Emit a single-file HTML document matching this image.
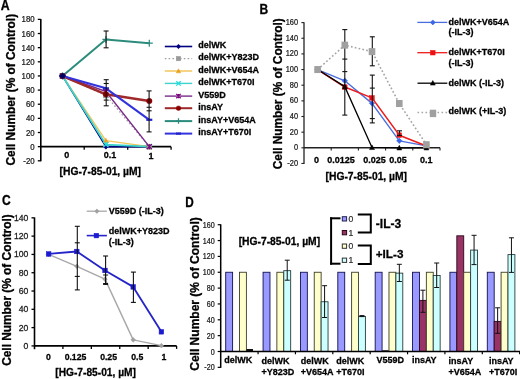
<!DOCTYPE html>
<html><head><meta charset="utf-8"><style>
html,body{margin:0;padding:0;background:#fff;}
svg{display:block;font-family:"Liberation Sans", sans-serif;filter:blur(0.35px);}
</style></head><body>
<svg width="520" height="379" viewBox="0 0 520 379">
<rect width="520" height="379" fill="#fff"/>
<text transform="translate(0.7,9.5) scale(0.88,1)" font-size="14" font-weight="bold" stroke="#000" stroke-width="0.3">A</text>
<text transform="translate(14.90,89.70) rotate(-90)" x="0" y="0" font-size="12" font-weight="bold" text-anchor="middle" stroke="#000" stroke-width="0.3" textLength="151.6" lengthAdjust="spacingAndGlyphs">Cell Number (% of Control)</text>
<line x1="40.80" y1="18.98" x2="40.80" y2="161.29" stroke="#000" stroke-width="1.6" />
<line x1="37.80" y1="160.79" x2="40.80" y2="160.79" stroke="#000" stroke-width="1.3" />
<text transform="translate(34.60,163.80) scale(0.93,1)" font-size="8.4" text-anchor="end" fill="#1a1a1a" stroke="#1a1a1a" stroke-width="0.25">-20</text>
<line x1="37.80" y1="146.65" x2="40.80" y2="146.65" stroke="#000" stroke-width="1.3" />
<text transform="translate(34.60,149.66) scale(0.93,1)" font-size="8.4" text-anchor="end" fill="#1a1a1a" stroke="#1a1a1a" stroke-width="0.25">0</text>
<line x1="37.80" y1="132.51" x2="40.80" y2="132.51" stroke="#000" stroke-width="1.3" />
<text transform="translate(34.60,135.52) scale(0.93,1)" font-size="8.4" text-anchor="end" fill="#1a1a1a" stroke="#1a1a1a" stroke-width="0.25">20</text>
<line x1="37.80" y1="118.37" x2="40.80" y2="118.37" stroke="#000" stroke-width="1.3" />
<text transform="translate(34.60,121.37) scale(0.93,1)" font-size="8.4" text-anchor="end" fill="#1a1a1a" stroke="#1a1a1a" stroke-width="0.25">40</text>
<line x1="37.80" y1="104.23" x2="40.80" y2="104.23" stroke="#000" stroke-width="1.3" />
<text transform="translate(34.60,107.23) scale(0.93,1)" font-size="8.4" text-anchor="end" fill="#1a1a1a" stroke="#1a1a1a" stroke-width="0.25">60</text>
<line x1="37.80" y1="90.09" x2="40.80" y2="90.09" stroke="#000" stroke-width="1.3" />
<text transform="translate(34.60,93.09) scale(0.93,1)" font-size="8.4" text-anchor="end" fill="#1a1a1a" stroke="#1a1a1a" stroke-width="0.25">80</text>
<line x1="37.80" y1="75.94" x2="40.80" y2="75.94" stroke="#000" stroke-width="1.3" />
<text transform="translate(34.60,78.95) scale(0.93,1)" font-size="8.4" text-anchor="end" fill="#1a1a1a" stroke="#1a1a1a" stroke-width="0.25">100</text>
<line x1="37.80" y1="61.80" x2="40.80" y2="61.80" stroke="#000" stroke-width="1.3" />
<text transform="translate(34.60,64.81) scale(0.93,1)" font-size="8.4" text-anchor="end" fill="#1a1a1a" stroke="#1a1a1a" stroke-width="0.25">120</text>
<line x1="37.80" y1="47.66" x2="40.80" y2="47.66" stroke="#000" stroke-width="1.3" />
<text transform="translate(34.60,50.67) scale(0.93,1)" font-size="8.4" text-anchor="end" fill="#1a1a1a" stroke="#1a1a1a" stroke-width="0.25">140</text>
<line x1="37.80" y1="33.52" x2="40.80" y2="33.52" stroke="#000" stroke-width="1.3" />
<text transform="translate(34.60,36.53) scale(0.93,1)" font-size="8.4" text-anchor="end" fill="#1a1a1a" stroke="#1a1a1a" stroke-width="0.25">160</text>
<line x1="37.80" y1="19.38" x2="40.80" y2="19.38" stroke="#000" stroke-width="1.3" />
<text transform="translate(34.60,22.39) scale(0.93,1)" font-size="8.4" text-anchor="end" fill="#1a1a1a" stroke="#1a1a1a" stroke-width="0.25">180</text>
<line x1="40.80" y1="146.65" x2="171.10" y2="146.65" stroke="#000" stroke-width="1.7" />
<line x1="84.20" y1="146.65" x2="84.20" y2="149.65" stroke="#000" stroke-width="1.3" />
<line x1="127.70" y1="146.65" x2="127.70" y2="149.65" stroke="#000" stroke-width="1.3" />
<line x1="171.10" y1="146.65" x2="171.10" y2="149.65" stroke="#000" stroke-width="1.3" />
<text x="66.70" y="158.42" font-size="9" font-weight="bold" text-anchor="middle" fill="#000" stroke="#000" stroke-width="0.28" >0</text>
<text x="109.90" y="158.42" font-size="9" font-weight="bold" text-anchor="middle" fill="#000" stroke="#000" stroke-width="0.28" >0.1</text>
<text x="151.10" y="158.62" font-size="9" font-weight="bold" text-anchor="middle" fill="#000" stroke="#000" stroke-width="0.28" >1</text>
<text x="100.30" y="174.89" font-size="10.3" font-weight="bold" text-anchor="middle" fill="#000" stroke="#000" stroke-width="0.28" >[HG-7-85-01, µM]</text>
<polyline points="62.50,75.94 105.90,146.65 149.30,146.65" fill="none" stroke="#000080" stroke-width="1.6" stroke-linejoin="round" />
<polyline points="62.50,75.94 105.90,95.39 149.30,146.65" fill="none" stroke="#a0a0a0" stroke-width="1.3" stroke-linejoin="round" stroke-dasharray="1.6,2.2"/>
<polyline points="62.50,75.94 105.90,140.64 149.30,146.65" fill="none" stroke="#f2c65c" stroke-width="1.4" stroke-linejoin="round" />
<polyline points="62.50,75.94 105.90,144.53 149.30,146.65" fill="none" stroke="#3cd4cc" stroke-width="1.7" stroke-linejoin="round" />
<polyline points="62.50,75.94 105.90,91.50 149.30,146.65" fill="none" stroke="#7a2a8a" stroke-width="1.4" stroke-linejoin="round" />
<polyline points="62.50,75.94 105.90,94.33 149.30,101.04" fill="none" stroke="#a02a2a" stroke-width="2.6" stroke-linejoin="round" />
<polyline points="62.50,75.94 105.90,39.46 149.30,43.14" fill="none" stroke="#2c8c7c" stroke-width="2.0" stroke-linejoin="round" />
<polyline points="62.50,75.94 105.90,88.32 149.30,119.78" fill="none" stroke="#3333dd" stroke-width="2.1" stroke-linejoin="round" />
<path d="M60.00,75.94L62.50,73.44L65.00,75.94L62.50,78.44Z" fill="#000080" stroke="#000080" stroke-width="0.6"/>
<path d="M103.40,146.65L105.90,144.15L108.40,146.65L105.90,149.15Z" fill="#000080" stroke="#000080" stroke-width="0.6"/>
<path d="M146.80,146.65L149.30,144.15L151.80,146.65L149.30,149.15Z" fill="#000080" stroke="#000080" stroke-width="0.6"/>
<rect x="60.00" y="73.44" width="5.00" height="5.00" fill="#999999" stroke="#999999" stroke-width="0.5"/>
<rect x="103.40" y="92.89" width="5.00" height="5.00" fill="#999999" stroke="#999999" stroke-width="0.5"/>
<rect x="146.80" y="144.15" width="5.00" height="5.00" fill="#999999" stroke="#999999" stroke-width="0.5"/>
<path d="M60.00,78.07L62.50,73.44L65.00,78.07Z" fill="#e8a020" stroke="#e8a020" stroke-width="0.5"/>
<path d="M103.40,142.76L105.90,138.14L108.40,142.76Z" fill="#e8a020" stroke="#e8a020" stroke-width="0.5"/>
<path d="M146.80,148.78L149.30,144.15L151.80,148.78Z" fill="#e8a020" stroke="#e8a020" stroke-width="0.5"/>
<path d="M60.00,73.44L65.00,78.44M65.00,73.44L60.00,78.44" stroke="#22dddd" stroke-width="1.3"/>
<path d="M103.40,142.03L108.40,147.03M108.40,142.03L103.40,147.03" stroke="#22dddd" stroke-width="1.3"/>
<path d="M146.80,144.15L151.80,149.15M151.80,144.15L146.80,149.15" stroke="#22dddd" stroke-width="1.3"/>
<path d="M60.00,73.44L65.00,78.44M65.00,73.44L60.00,78.44M62.50,73.44L62.50,78.44" stroke="#800080" stroke-width="1.3"/>
<path d="M103.40,89.00L108.40,94.00M108.40,89.00L103.40,94.00M105.90,89.00L105.90,94.00" stroke="#800080" stroke-width="1.3"/>
<path d="M146.80,144.15L151.80,149.15M151.80,144.15L146.80,149.15M149.30,144.15L149.30,149.15" stroke="#800080" stroke-width="1.3"/>
<circle cx="62.50" cy="75.94" r="2.75" fill="#8a0000" stroke="#8a0000" stroke-width="0.5"/>
<circle cx="105.90" cy="94.33" r="2.75" fill="#8a0000" stroke="#8a0000" stroke-width="0.5"/>
<circle cx="149.30" cy="101.04" r="2.75" fill="#8a0000" stroke="#8a0000" stroke-width="0.5"/>
<path d="M59.00,75.94L66.00,75.94M62.50,72.44L62.50,79.44" stroke="#2a8a7e" stroke-width="1.2"/>
<path d="M102.40,39.46L109.40,39.46M105.90,35.96L105.90,42.96" stroke="#2a8a7e" stroke-width="1.2"/>
<path d="M145.80,43.14L152.80,43.14M149.30,39.64L149.30,46.64" stroke="#2a8a7e" stroke-width="1.2"/>
<path d="M59.50,75.94L65.50,75.94" stroke="#2020cc" stroke-width="2.2"/>
<path d="M102.90,88.32L108.90,88.32" stroke="#2020cc" stroke-width="2.2"/>
<path d="M146.30,119.78L152.30,119.78" stroke="#2020cc" stroke-width="2.2"/>
<path d="M59.50,75.94L62.50,72.94L65.50,75.94L62.50,78.94Z" fill="#000060" stroke="#000060" stroke-width="0.6"/>
<line x1="106.10" y1="31.00" x2="106.10" y2="47.80" stroke="#111" stroke-width="1.1" />
<line x1="103.60" y1="31.00" x2="108.60" y2="31.00" stroke="#111" stroke-width="1.1" />
<line x1="103.60" y1="47.80" x2="108.60" y2="47.80" stroke="#111" stroke-width="1.1" />
<line x1="106.20" y1="79.70" x2="106.20" y2="105.80" stroke="#111" stroke-width="1.1" />
<line x1="103.70" y1="79.70" x2="108.70" y2="79.70" stroke="#111" stroke-width="1.1" />
<line x1="103.70" y1="83.50" x2="108.70" y2="83.50" stroke="#111" stroke-width="1.1" />
<line x1="103.70" y1="100.10" x2="108.70" y2="100.10" stroke="#111" stroke-width="1.1" />
<line x1="103.70" y1="105.80" x2="108.70" y2="105.80" stroke="#111" stroke-width="1.1" />
<line x1="149.10" y1="90.90" x2="149.10" y2="131.90" stroke="#111" stroke-width="1.1" />
<line x1="146.60" y1="90.90" x2="151.60" y2="90.90" stroke="#111" stroke-width="1.1" />
<line x1="146.60" y1="107.30" x2="151.60" y2="107.30" stroke="#111" stroke-width="1.1" />
<line x1="146.60" y1="110.80" x2="151.60" y2="110.80" stroke="#111" stroke-width="1.1" />
<line x1="146.60" y1="131.90" x2="151.60" y2="131.90" stroke="#111" stroke-width="1.1" />
<line x1="164.80" y1="46.50" x2="192.20" y2="46.50" stroke="#000080" stroke-width="1.6" />
<path d="M176.30,46.50L178.50,44.30L180.70,46.50L178.50,48.70Z" fill="#000080" stroke="#000080" stroke-width="0.6"/>
<text x="198.30" y="48.22" font-size="9.0" font-weight="bold" text-anchor="start" fill="#000" stroke="#000" stroke-width="0.28" >delWK</text>
<line x1="164.80" y1="58.60" x2="192.20" y2="58.60" stroke="#a0a0a0" stroke-width="1.2" stroke-dasharray="1.6,2.2"/>
<rect x="176.30" y="56.40" width="4.40" height="4.40" fill="#999999" stroke="#999999" stroke-width="0.5"/>
<text x="198.30" y="60.32" font-size="9.0" font-weight="bold" text-anchor="start" fill="#000" stroke="#000" stroke-width="0.28" >delWK+Y823D</text>
<line x1="164.80" y1="71.00" x2="192.20" y2="71.00" stroke="#f2c65c" stroke-width="1.5" />
<path d="M176.30,72.87L178.50,68.80L180.70,72.87Z" fill="#e8a020" stroke="#e8a020" stroke-width="0.5"/>
<text x="198.30" y="72.72" font-size="9.0" font-weight="bold" text-anchor="start" fill="#000" stroke="#000" stroke-width="0.28" >delWK+V654A</text>
<line x1="164.80" y1="83.40" x2="192.20" y2="83.40" stroke="#3cd4cc" stroke-width="1.4" />
<path d="M176.30,81.20L180.70,85.60M180.70,81.20L176.30,85.60" stroke="#22dddd" stroke-width="1.3"/>
<text x="198.30" y="85.12" font-size="9.0" font-weight="bold" text-anchor="start" fill="#000" stroke="#000" stroke-width="0.28" >delWK+T670I</text>
<line x1="164.80" y1="96.10" x2="192.20" y2="96.10" stroke="#7a2a8a" stroke-width="1.4" />
<path d="M176.30,93.90L180.70,98.30M180.70,93.90L176.30,98.30M178.50,93.90L178.50,98.30" stroke="#800080" stroke-width="1.3"/>
<text x="198.30" y="97.82" font-size="9.0" font-weight="bold" text-anchor="start" fill="#000" stroke="#000" stroke-width="0.28" >V559D</text>
<line x1="164.80" y1="108.20" x2="192.20" y2="108.20" stroke="#a02a2a" stroke-width="2.0" />
<circle cx="178.50" cy="108.20" r="2.30" fill="#8a0000" stroke="#8a0000" stroke-width="0.5"/>
<text x="198.30" y="109.92" font-size="9.0" font-weight="bold" text-anchor="start" fill="#000" stroke="#000" stroke-width="0.28" >insAY</text>
<line x1="164.80" y1="121.10" x2="192.20" y2="121.10" stroke="#2c8c7c" stroke-width="2.0" />
<path d="M175.75,121.10L181.25,121.10M178.50,118.35L178.50,123.85" stroke="#2a8a7e" stroke-width="1.2"/>
<text x="198.30" y="122.82" font-size="9.0" font-weight="bold" text-anchor="start" fill="#000" stroke="#000" stroke-width="0.28" >insAY+V654A</text>
<line x1="164.80" y1="133.60" x2="192.20" y2="133.60" stroke="#3333dd" stroke-width="2.0" />
<path d="M176.00,133.60L181.00,133.60" stroke="#2020cc" stroke-width="2.2"/>
<text x="198.30" y="135.32" font-size="9.0" font-weight="bold" text-anchor="start" fill="#000" stroke="#000" stroke-width="0.28" >insAY+T670I</text>
<text transform="translate(259.4,14.0) scale(0.86,1)" font-size="14" font-weight="bold" stroke="#000" stroke-width="0.3">B</text>
<text transform="translate(281.50,93.70) rotate(-90)" x="0" y="0" font-size="12" font-weight="bold" text-anchor="middle" stroke="#000" stroke-width="0.3" textLength="151.0" lengthAdjust="spacingAndGlyphs">Cell Number (% of Control)</text>
<line x1="304.00" y1="22.19" x2="304.00" y2="163.97" stroke="#222" stroke-width="1.3" />
<line x1="301.40" y1="163.47" x2="304.00" y2="163.47" stroke="#222" stroke-width="1.1" />
<text transform="translate(298.00,165.88) scale(0.88,1)" font-size="8.4" text-anchor="end" fill="#1a1a1a" stroke="#1a1a1a" stroke-width="0.25">-20</text>
<line x1="301.40" y1="147.82" x2="304.00" y2="147.82" stroke="#222" stroke-width="1.1" />
<text transform="translate(298.00,150.23) scale(0.88,1)" font-size="8.4" text-anchor="end" fill="#1a1a1a" stroke="#1a1a1a" stroke-width="0.25">0</text>
<line x1="301.40" y1="132.17" x2="304.00" y2="132.17" stroke="#222" stroke-width="1.1" />
<text transform="translate(298.00,134.57) scale(0.88,1)" font-size="8.4" text-anchor="end" fill="#1a1a1a" stroke="#1a1a1a" stroke-width="0.25">20</text>
<line x1="301.40" y1="116.51" x2="304.00" y2="116.51" stroke="#222" stroke-width="1.1" />
<text transform="translate(298.00,118.92) scale(0.88,1)" font-size="8.4" text-anchor="end" fill="#1a1a1a" stroke="#1a1a1a" stroke-width="0.25">40</text>
<line x1="301.40" y1="100.86" x2="304.00" y2="100.86" stroke="#222" stroke-width="1.1" />
<text transform="translate(298.00,103.27) scale(0.88,1)" font-size="8.4" text-anchor="end" fill="#1a1a1a" stroke="#1a1a1a" stroke-width="0.25">60</text>
<line x1="301.40" y1="85.20" x2="304.00" y2="85.20" stroke="#222" stroke-width="1.1" />
<text transform="translate(298.00,87.61) scale(0.88,1)" font-size="8.4" text-anchor="end" fill="#1a1a1a" stroke="#1a1a1a" stroke-width="0.25">80</text>
<line x1="301.40" y1="69.55" x2="304.00" y2="69.55" stroke="#222" stroke-width="1.1" />
<text transform="translate(298.00,71.96) scale(0.88,1)" font-size="8.4" text-anchor="end" fill="#1a1a1a" stroke="#1a1a1a" stroke-width="0.25">100</text>
<line x1="301.40" y1="53.90" x2="304.00" y2="53.90" stroke="#222" stroke-width="1.1" />
<text transform="translate(298.00,56.30) scale(0.88,1)" font-size="8.4" text-anchor="end" fill="#1a1a1a" stroke="#1a1a1a" stroke-width="0.25">120</text>
<line x1="301.40" y1="38.24" x2="304.00" y2="38.24" stroke="#222" stroke-width="1.1" />
<text transform="translate(298.00,40.65) scale(0.88,1)" font-size="8.4" text-anchor="end" fill="#1a1a1a" stroke="#1a1a1a" stroke-width="0.25">140</text>
<line x1="301.40" y1="22.59" x2="304.00" y2="22.59" stroke="#222" stroke-width="1.1" />
<text transform="translate(298.00,25.00) scale(0.88,1)" font-size="8.4" text-anchor="end" fill="#1a1a1a" stroke="#1a1a1a" stroke-width="0.25">160</text>
<line x1="304.00" y1="147.82" x2="440.00" y2="147.82" stroke="#222" stroke-width="1.4" />
<line x1="331.20" y1="147.82" x2="331.20" y2="150.62" stroke="#222" stroke-width="1.1" />
<line x1="358.40" y1="147.82" x2="358.40" y2="150.62" stroke="#222" stroke-width="1.1" />
<line x1="385.60" y1="147.82" x2="385.60" y2="150.62" stroke="#222" stroke-width="1.1" />
<line x1="412.80" y1="147.82" x2="412.80" y2="150.62" stroke="#222" stroke-width="1.1" />
<line x1="440.00" y1="147.82" x2="440.00" y2="150.62" stroke="#222" stroke-width="1.1" />
<text x="316.50" y="163.22" font-size="9" font-weight="bold" text-anchor="middle" fill="#000" stroke="#000" stroke-width="0.28" >0</text>
<text x="341.10" y="163.22" font-size="9" font-weight="bold" text-anchor="middle" fill="#000" stroke="#000" stroke-width="0.28" >0.0125</text>
<text x="374.50" y="163.22" font-size="9" font-weight="bold" text-anchor="middle" fill="#000" stroke="#000" stroke-width="0.28" >0.025</text>
<text x="398.00" y="163.22" font-size="9" font-weight="bold" text-anchor="middle" fill="#000" stroke="#000" stroke-width="0.28" >0.05</text>
<text x="426.30" y="163.22" font-size="9" font-weight="bold" text-anchor="middle" fill="#000" stroke="#000" stroke-width="0.28" >0.1</text>
<text x="366.30" y="179.69" font-size="10.3" font-weight="bold" text-anchor="middle" fill="#000" stroke="#000" stroke-width="0.28" >[HG-7-85-01, µM]</text>
<polyline points="317.60,69.55 344.80,80.82 372.00,103.36 399.30,140.85 426.40,145.86" fill="none" stroke="#4a6ee0" stroke-width="1.4" stroke-linejoin="round" />
<path d="M314.90,69.55L317.60,66.85L320.30,69.55L317.60,72.25Z" fill="#3a66e8" stroke="#3a66e8" stroke-width="0.6"/>
<path d="M342.10,80.82L344.80,78.12L347.50,80.82L344.80,83.52Z" fill="#3a66e8" stroke="#3a66e8" stroke-width="0.6"/>
<path d="M369.30,103.36L372.00,100.66L374.70,103.36L372.00,106.06Z" fill="#3a66e8" stroke="#3a66e8" stroke-width="0.6"/>
<path d="M396.60,140.85L399.30,138.15L402.00,140.85L399.30,143.55Z" fill="#3a66e8" stroke="#3a66e8" stroke-width="0.6"/>
<path d="M423.70,145.86L426.40,143.16L429.10,145.86L426.40,148.56Z" fill="#3a66e8" stroke="#3a66e8" stroke-width="0.6"/>
<polyline points="317.60,69.55 344.80,87.08 372.00,97.88 399.30,135.14 426.40,146.10" fill="none" stroke="#ee1c1c" stroke-width="1.6" stroke-linejoin="round" />
<rect x="315.30" y="67.25" width="4.60" height="4.60" fill="#ee1111" stroke="#ee1111" stroke-width="0.5"/>
<rect x="342.50" y="84.78" width="4.60" height="4.60" fill="#ee1111" stroke="#ee1111" stroke-width="0.5"/>
<rect x="369.70" y="95.58" width="4.60" height="4.60" fill="#ee1111" stroke="#ee1111" stroke-width="0.5"/>
<rect x="397.00" y="132.84" width="4.60" height="4.60" fill="#ee1111" stroke="#ee1111" stroke-width="0.5"/>
<rect x="424.10" y="143.80" width="4.60" height="4.60" fill="#ee1111" stroke="#ee1111" stroke-width="0.5"/>
<polyline points="317.60,69.55 344.80,86.61 372.00,147.43 399.30,147.82 426.40,147.82" fill="none" stroke="#000" stroke-width="1.3" stroke-linejoin="round" />
<path d="M315.10,71.67L317.60,67.05L320.10,71.67Z" fill="#000" stroke="#000" stroke-width="0.5"/>
<path d="M342.30,88.74L344.80,84.11L347.30,88.74Z" fill="#000" stroke="#000" stroke-width="0.5"/>
<path d="M369.50,149.55L372.00,144.93L374.50,149.55Z" fill="#000" stroke="#000" stroke-width="0.5"/>
<path d="M396.80,149.94L399.30,145.32L401.80,149.94Z" fill="#000" stroke="#000" stroke-width="0.5"/>
<path d="M423.90,149.94L426.40,145.32L428.90,149.94Z" fill="#000" stroke="#000" stroke-width="0.5"/>
<line x1="344.80" y1="29.60" x2="344.80" y2="115.10" stroke="#111" stroke-width="1.1" />
<line x1="342.30" y1="29.60" x2="347.30" y2="29.60" stroke="#111" stroke-width="1.1" />
<line x1="342.30" y1="59.10" x2="347.30" y2="59.10" stroke="#111" stroke-width="1.1" />
<line x1="342.30" y1="71.60" x2="347.30" y2="71.60" stroke="#111" stroke-width="1.1" />
<line x1="342.30" y1="115.10" x2="347.30" y2="115.10" stroke="#111" stroke-width="1.1" />
<line x1="372.30" y1="36.80" x2="372.30" y2="65.80" stroke="#111" stroke-width="1.1" />
<line x1="369.80" y1="36.80" x2="374.80" y2="36.80" stroke="#111" stroke-width="1.1" />
<line x1="369.80" y1="65.80" x2="374.80" y2="65.80" stroke="#111" stroke-width="1.1" />
<line x1="372.30" y1="75.10" x2="372.30" y2="122.90" stroke="#111" stroke-width="1.1" />
<line x1="369.80" y1="75.10" x2="374.80" y2="75.10" stroke="#111" stroke-width="1.1" />
<line x1="369.80" y1="88.10" x2="374.80" y2="88.10" stroke="#111" stroke-width="1.1" />
<line x1="369.80" y1="118.60" x2="374.80" y2="118.60" stroke="#111" stroke-width="1.1" />
<line x1="369.80" y1="122.90" x2="374.80" y2="122.90" stroke="#111" stroke-width="1.1" />
<line x1="399.50" y1="130.80" x2="399.50" y2="135.50" stroke="#111" stroke-width="1.1" />
<line x1="397.00" y1="130.80" x2="402.00" y2="130.80" stroke="#111" stroke-width="1.1" />
<line x1="397.00" y1="135.50" x2="402.00" y2="135.50" stroke="#111" stroke-width="1.1" />
<polyline points="317.60,69.55 344.80,45.13 372.00,51.63 399.30,103.52 426.40,144.69" fill="none" stroke="#a4a4a4" stroke-width="1.6" stroke-linejoin="round" stroke-dasharray="1.7,2.2"/>
<rect x="314.30" y="66.05" width="6.6" height="7.0" fill="#a0a0a0"/>
<rect x="341.50" y="41.63" width="6.6" height="7.0" fill="#a0a0a0"/>
<rect x="368.70" y="48.13" width="6.6" height="7.0" fill="#a0a0a0"/>
<rect x="396.00" y="100.02" width="6.6" height="7.0" fill="#a0a0a0"/>
<rect x="423.10" y="141.19" width="6.6" height="7.0" fill="#a0a0a0"/>
<line x1="417.30" y1="22.40" x2="447.30" y2="22.40" stroke="#4a6ee0" stroke-width="1.3" />
<path d="M430.30,22.40L432.80,19.90L435.30,22.40L432.80,24.90Z" fill="#3a66e8" stroke="#3a66e8" stroke-width="0.6"/>
<text x="448.60" y="24.62" font-size="9.0" font-weight="bold" text-anchor="start" fill="#000" stroke="#000" stroke-width="0.28" >delWK+V654A</text>
<text x="448.60" y="35.12" font-size="9.0" font-weight="bold" text-anchor="start" fill="#000" stroke="#000" stroke-width="0.28" >(-IL-3)</text>
<line x1="417.30" y1="52.70" x2="447.30" y2="52.70" stroke="#ee1c1c" stroke-width="1.3" />
<rect x="430.50" y="50.40" width="4.60" height="4.60" fill="#ee1111" stroke="#ee1111" stroke-width="0.5"/>
<text x="448.60" y="54.92" font-size="9.0" font-weight="bold" text-anchor="start" fill="#000" stroke="#000" stroke-width="0.28" >delWK+T670I</text>
<text x="448.60" y="65.82" font-size="9.0" font-weight="bold" text-anchor="start" fill="#000" stroke="#000" stroke-width="0.28" >(-IL-3)</text>
<line x1="417.50" y1="83.20" x2="447.30" y2="83.20" stroke="#000" stroke-width="1.3" />
<path d="M430.30,85.12L432.80,80.50L435.30,85.12Z" fill="#000" stroke="#000" stroke-width="0.5"/>
<text x="448.60" y="85.62" font-size="9.0" font-weight="bold" text-anchor="start" fill="#000" stroke="#000" stroke-width="0.28" >delWK (-IL-3)</text>
<line x1="417.50" y1="112.60" x2="447.30" y2="112.60" stroke="#a8a8a8" stroke-width="1.5" stroke-dasharray="1.6,2.4"/>
<rect x="429.8" y="109.7" width="6.4" height="7.4" fill="#a0a0a0"/>
<text x="448.60" y="114.42" font-size="9.0" font-weight="bold" text-anchor="start" fill="#000" stroke="#000" stroke-width="0.28" >delWK (+IL-3)</text>
<text transform="translate(1.9,205.3) scale(0.86,1)" font-size="14" font-weight="bold" stroke="#000" stroke-width="0.3">C</text>
<text transform="translate(10.60,290.05) rotate(-90)" x="0" y="0" font-size="12" font-weight="bold" text-anchor="middle" stroke="#000" stroke-width="0.3" textLength="151.5" lengthAdjust="spacingAndGlyphs">Cell Number (% of Control)</text>
<line x1="34.50" y1="217.44" x2="34.50" y2="349.21" stroke="#000" stroke-width="1.6" />
<line x1="31.50" y1="345.91" x2="34.50" y2="345.91" stroke="#000" stroke-width="1.3" />
<text transform="translate(28.40,348.92) scale(1.03,1)" font-size="8.4" text-anchor="end" fill="#1a1a1a" stroke="#1a1a1a" stroke-width="0.25">0</text>
<line x1="31.50" y1="327.61" x2="34.50" y2="327.61" stroke="#000" stroke-width="1.3" />
<text transform="translate(28.40,330.62) scale(1.03,1)" font-size="8.4" text-anchor="end" fill="#1a1a1a" stroke="#1a1a1a" stroke-width="0.25">20</text>
<line x1="31.50" y1="309.32" x2="34.50" y2="309.32" stroke="#000" stroke-width="1.3" />
<text transform="translate(28.40,312.32) scale(1.03,1)" font-size="8.4" text-anchor="end" fill="#1a1a1a" stroke="#1a1a1a" stroke-width="0.25">40</text>
<line x1="31.50" y1="291.02" x2="34.50" y2="291.02" stroke="#000" stroke-width="1.3" />
<text transform="translate(28.40,294.03) scale(1.03,1)" font-size="8.4" text-anchor="end" fill="#1a1a1a" stroke="#1a1a1a" stroke-width="0.25">60</text>
<line x1="31.50" y1="272.72" x2="34.50" y2="272.72" stroke="#000" stroke-width="1.3" />
<text transform="translate(28.40,275.73) scale(1.03,1)" font-size="8.4" text-anchor="end" fill="#1a1a1a" stroke="#1a1a1a" stroke-width="0.25">80</text>
<line x1="31.50" y1="254.43" x2="34.50" y2="254.43" stroke="#000" stroke-width="1.3" />
<text transform="translate(28.40,257.44) scale(1.03,1)" font-size="8.4" text-anchor="end" fill="#1a1a1a" stroke="#1a1a1a" stroke-width="0.25">100</text>
<line x1="31.50" y1="236.13" x2="34.50" y2="236.13" stroke="#000" stroke-width="1.3" />
<text transform="translate(28.40,239.14) scale(1.03,1)" font-size="8.4" text-anchor="end" fill="#1a1a1a" stroke="#1a1a1a" stroke-width="0.25">120</text>
<line x1="31.50" y1="217.84" x2="34.50" y2="217.84" stroke="#000" stroke-width="1.3" />
<text transform="translate(28.40,220.84) scale(1.03,1)" font-size="8.4" text-anchor="end" fill="#1a1a1a" stroke="#1a1a1a" stroke-width="0.25">140</text>
<line x1="34.50" y1="345.91" x2="176.60" y2="345.91" stroke="#000" stroke-width="1.7" />
<line x1="62.92" y1="345.91" x2="62.92" y2="348.91" stroke="#000" stroke-width="1.3" />
<line x1="91.34" y1="345.91" x2="91.34" y2="348.91" stroke="#000" stroke-width="1.3" />
<line x1="119.76" y1="345.91" x2="119.76" y2="348.91" stroke="#000" stroke-width="1.3" />
<line x1="148.18" y1="345.91" x2="148.18" y2="348.91" stroke="#000" stroke-width="1.3" />
<line x1="176.60" y1="345.91" x2="176.60" y2="348.91" stroke="#000" stroke-width="1.3" />
<text x="48.40" y="360.21" font-size="8.7" font-weight="bold" text-anchor="middle" fill="#000" stroke="#000" stroke-width="0.28" >0</text>
<text x="75.50" y="360.21" font-size="8.7" font-weight="bold" text-anchor="middle" fill="#000" stroke="#000" stroke-width="0.28" >0.125</text>
<text x="108.60" y="360.21" font-size="8.7" font-weight="bold" text-anchor="middle" fill="#000" stroke="#000" stroke-width="0.28" >0.25</text>
<text x="137.20" y="360.21" font-size="8.7" font-weight="bold" text-anchor="middle" fill="#000" stroke="#000" stroke-width="0.28" >0.5</text>
<text x="163.90" y="360.21" font-size="8.7" font-weight="bold" text-anchor="middle" fill="#000" stroke="#000" stroke-width="0.28" >1</text>
<text x="95.60" y="375.55" font-size="10.2" font-weight="bold" text-anchor="middle" fill="#000" stroke="#000" stroke-width="0.28" >[HG-7-85-01, µM]</text>
<polyline points="48.60,254.43 76.80,266.32 105.00,279.13 133.20,339.87 161.40,345.64" fill="none" stroke="#a8a8a8" stroke-width="1.4" stroke-linejoin="round" />
<polyline points="48.60,253.97 76.80,251.50 105.00,270.44 133.20,286.90 161.40,331.82" fill="none" stroke="#2424c8" stroke-width="1.8" stroke-linejoin="round" />
<path d="M46.30,254.43L48.60,252.13L50.90,254.43L48.60,256.73Z" fill="#a0a0a0" stroke="#a0a0a0" stroke-width="0.6"/>
<path d="M74.50,266.32L76.80,264.02L79.10,266.32L76.80,268.62Z" fill="#a0a0a0" stroke="#a0a0a0" stroke-width="0.6"/>
<path d="M102.70,279.13L105.00,276.83L107.30,279.13L105.00,281.43Z" fill="#a0a0a0" stroke="#a0a0a0" stroke-width="0.6"/>
<path d="M130.90,339.87L133.20,337.57L135.50,339.87L133.20,342.17Z" fill="#a0a0a0" stroke="#a0a0a0" stroke-width="0.6"/>
<path d="M159.10,345.64L161.40,343.34L163.70,345.64L161.40,347.94Z" fill="#a0a0a0" stroke="#a0a0a0" stroke-width="0.6"/>
<rect x="46.30" y="251.67" width="4.60" height="4.60" fill="#1a1ad0" stroke="#1a1ad0" stroke-width="0.5"/>
<rect x="74.50" y="249.20" width="4.60" height="4.60" fill="#1a1ad0" stroke="#1a1ad0" stroke-width="0.5"/>
<rect x="102.70" y="268.14" width="4.60" height="4.60" fill="#1a1ad0" stroke="#1a1ad0" stroke-width="0.5"/>
<rect x="130.90" y="284.60" width="4.60" height="4.60" fill="#1a1ad0" stroke="#1a1ad0" stroke-width="0.5"/>
<rect x="159.10" y="329.52" width="4.60" height="4.60" fill="#1a1ad0" stroke="#1a1ad0" stroke-width="0.5"/>
<line x1="77.30" y1="226.30" x2="77.30" y2="289.90" stroke="#111" stroke-width="1.1" />
<line x1="74.80" y1="226.30" x2="79.80" y2="226.30" stroke="#111" stroke-width="1.1" />
<line x1="74.80" y1="242.80" x2="79.80" y2="242.80" stroke="#111" stroke-width="1.1" />
<line x1="74.80" y1="276.40" x2="79.80" y2="276.40" stroke="#111" stroke-width="1.1" />
<line x1="74.80" y1="289.90" x2="79.80" y2="289.90" stroke="#111" stroke-width="1.1" />
<line x1="105.60" y1="256.00" x2="105.60" y2="284.40" stroke="#111" stroke-width="1.1" />
<line x1="103.10" y1="256.00" x2="108.10" y2="256.00" stroke="#111" stroke-width="1.1" />
<line x1="103.10" y1="284.40" x2="108.10" y2="284.40" stroke="#111" stroke-width="1.1" />
<line x1="105.60" y1="275.00" x2="105.60" y2="283.50" stroke="#111" stroke-width="1.0" />
<line x1="103.10" y1="275.00" x2="108.10" y2="275.00" stroke="#111" stroke-width="1.0" />
<line x1="103.10" y1="283.50" x2="108.10" y2="283.50" stroke="#111" stroke-width="1.0" />
<line x1="133.40" y1="272.10" x2="133.40" y2="302.40" stroke="#111" stroke-width="1.1" />
<line x1="130.90" y1="272.10" x2="135.90" y2="272.10" stroke="#111" stroke-width="1.1" />
<line x1="130.90" y1="302.40" x2="135.90" y2="302.40" stroke="#111" stroke-width="1.1" />
<line x1="86.70" y1="211.20" x2="106.90" y2="211.20" stroke="#a8a8a8" stroke-width="1.3" />
<path d="M94.70,211.20L96.90,209.00L99.10,211.20L96.90,213.40Z" fill="#a0a0a0" stroke="#a0a0a0" stroke-width="0.6"/>
<text x="108.70" y="214.22" font-size="9.0" font-weight="bold" text-anchor="start" fill="#000" stroke="#000" stroke-width="0.28" >V559D (-IL-3)</text>
<line x1="86.70" y1="235.60" x2="106.90" y2="235.60" stroke="#2424c8" stroke-width="1.6" />
<rect x="94.10" y="233.30" width="4.60" height="4.60" fill="#1a1ad0" stroke="#1a1ad0" stroke-width="0.5"/>
<text x="108.70" y="234.42" font-size="9.0" font-weight="bold" text-anchor="start" fill="#000" stroke="#000" stroke-width="0.28" >delWK+Y823D</text>
<text x="108.70" y="245.42" font-size="9.0" font-weight="bold" text-anchor="start" fill="#000" stroke="#000" stroke-width="0.28" >(-IL-3)</text>
<text transform="translate(185.2,206.8) scale(0.84,1)" font-size="14" font-weight="bold" stroke="#000" stroke-width="0.3">D</text>
<text transform="translate(198.60,294.00) rotate(-90)" x="0" y="0" font-size="12" font-weight="bold" text-anchor="middle" stroke="#000" stroke-width="0.3" textLength="153.5" lengthAdjust="spacingAndGlyphs">Cell Number (% of Control)</text>
<line x1="220.70" y1="224.31" x2="220.70" y2="367.85" stroke="#000" stroke-width="1.5" />
<line x1="217.70" y1="367.35" x2="220.70" y2="367.35" stroke="#000" stroke-width="1.2" />
<text transform="translate(214.60,370.36) scale(0.85,1)" font-size="8.4" text-anchor="end" fill="#1a1a1a" stroke="#1a1a1a" stroke-width="0.25">-20</text>
<line x1="217.70" y1="351.50" x2="220.70" y2="351.50" stroke="#000" stroke-width="1.2" />
<text transform="translate(214.60,354.51) scale(0.85,1)" font-size="8.4" text-anchor="end" fill="#1a1a1a" stroke="#1a1a1a" stroke-width="0.25">0</text>
<line x1="217.70" y1="335.65" x2="220.70" y2="335.65" stroke="#000" stroke-width="1.2" />
<text transform="translate(214.60,338.66) scale(0.85,1)" font-size="8.4" text-anchor="end" fill="#1a1a1a" stroke="#1a1a1a" stroke-width="0.25">20</text>
<line x1="217.70" y1="319.80" x2="220.70" y2="319.80" stroke="#000" stroke-width="1.2" />
<text transform="translate(214.60,322.81) scale(0.85,1)" font-size="8.4" text-anchor="end" fill="#1a1a1a" stroke="#1a1a1a" stroke-width="0.25">40</text>
<line x1="217.70" y1="303.95" x2="220.70" y2="303.95" stroke="#000" stroke-width="1.2" />
<text transform="translate(214.60,306.96) scale(0.85,1)" font-size="8.4" text-anchor="end" fill="#1a1a1a" stroke="#1a1a1a" stroke-width="0.25">60</text>
<line x1="217.70" y1="288.11" x2="220.70" y2="288.11" stroke="#000" stroke-width="1.2" />
<text transform="translate(214.60,291.11) scale(0.85,1)" font-size="8.4" text-anchor="end" fill="#1a1a1a" stroke="#1a1a1a" stroke-width="0.25">80</text>
<line x1="217.70" y1="272.26" x2="220.70" y2="272.26" stroke="#000" stroke-width="1.2" />
<text transform="translate(214.60,275.26) scale(0.85,1)" font-size="8.4" text-anchor="end" fill="#1a1a1a" stroke="#1a1a1a" stroke-width="0.25">100</text>
<line x1="217.70" y1="256.41" x2="220.70" y2="256.41" stroke="#000" stroke-width="1.2" />
<text transform="translate(214.60,259.42) scale(0.85,1)" font-size="8.4" text-anchor="end" fill="#1a1a1a" stroke="#1a1a1a" stroke-width="0.25">120</text>
<line x1="217.70" y1="240.56" x2="220.70" y2="240.56" stroke="#000" stroke-width="1.2" />
<text transform="translate(214.60,243.57) scale(0.85,1)" font-size="8.4" text-anchor="end" fill="#1a1a1a" stroke="#1a1a1a" stroke-width="0.25">140</text>
<line x1="217.70" y1="224.71" x2="220.70" y2="224.71" stroke="#000" stroke-width="1.2" />
<text transform="translate(214.60,227.72) scale(0.85,1)" font-size="8.4" text-anchor="end" fill="#1a1a1a" stroke="#1a1a1a" stroke-width="0.25">160</text>
<rect x="225.70" y="272.26" width="6.90" height="79.24" fill="#9999ff" stroke="#101050" stroke-width="0.9"/>
<rect x="239.50" y="272.26" width="6.90" height="79.24" fill="#ffffcc" stroke="#3c3c28" stroke-width="0.9"/>
<rect x="263.07" y="272.26" width="6.90" height="79.24" fill="#9999ff" stroke="#101050" stroke-width="0.9"/>
<rect x="276.87" y="272.26" width="6.90" height="79.24" fill="#ffffcc" stroke="#3c3c28" stroke-width="0.9"/>
<rect x="283.77" y="270.67" width="6.90" height="80.83" fill="#ccffff" stroke="#283c3c" stroke-width="0.9"/>
<rect x="300.44" y="272.26" width="6.90" height="79.24" fill="#9999ff" stroke="#101050" stroke-width="0.9"/>
<rect x="314.24" y="272.26" width="6.90" height="79.24" fill="#ffffcc" stroke="#3c3c28" stroke-width="0.9"/>
<rect x="321.14" y="301.74" width="6.90" height="49.76" fill="#ccffff" stroke="#283c3c" stroke-width="0.9"/>
<rect x="337.81" y="272.26" width="6.90" height="79.24" fill="#9999ff" stroke="#101050" stroke-width="0.9"/>
<rect x="351.61" y="272.26" width="6.90" height="79.24" fill="#ffffcc" stroke="#3c3c28" stroke-width="0.9"/>
<rect x="358.51" y="316.40" width="6.90" height="35.10" fill="#ccffff" stroke="#283c3c" stroke-width="0.9"/>
<rect x="375.18" y="272.26" width="6.90" height="79.24" fill="#9999ff" stroke="#101050" stroke-width="0.9"/>
<rect x="388.98" y="272.26" width="6.90" height="79.24" fill="#ffffcc" stroke="#3c3c28" stroke-width="0.9"/>
<rect x="395.88" y="273.13" width="6.90" height="78.37" fill="#ccffff" stroke="#283c3c" stroke-width="0.9"/>
<rect x="412.55" y="272.26" width="6.90" height="79.24" fill="#9999ff" stroke="#101050" stroke-width="0.9"/>
<rect x="419.45" y="300.39" width="6.90" height="51.11" fill="#993366" stroke="#2a0818" stroke-width="0.9"/>
<rect x="426.35" y="272.26" width="6.90" height="79.24" fill="#ffffcc" stroke="#3c3c28" stroke-width="0.9"/>
<rect x="433.25" y="275.51" width="6.90" height="75.99" fill="#ccffff" stroke="#283c3c" stroke-width="0.9"/>
<rect x="449.92" y="272.26" width="6.90" height="79.24" fill="#9999ff" stroke="#101050" stroke-width="0.9"/>
<rect x="456.82" y="235.81" width="6.90" height="115.69" fill="#993366" stroke="#2a0818" stroke-width="0.9"/>
<rect x="463.72" y="272.26" width="6.90" height="79.24" fill="#ffffcc" stroke="#3c3c28" stroke-width="0.9"/>
<rect x="470.62" y="250.07" width="6.90" height="101.43" fill="#ccffff" stroke="#283c3c" stroke-width="0.9"/>
<rect x="487.29" y="272.26" width="6.90" height="79.24" fill="#9999ff" stroke="#101050" stroke-width="0.9"/>
<rect x="494.19" y="321.39" width="6.90" height="30.11" fill="#993366" stroke="#2a0818" stroke-width="0.9"/>
<rect x="501.09" y="272.26" width="6.90" height="79.24" fill="#ffffcc" stroke="#3c3c28" stroke-width="0.9"/>
<rect x="507.99" y="254.59" width="6.90" height="96.91" fill="#ccffff" stroke="#283c3c" stroke-width="0.9"/>
<line x1="287.22" y1="260.20" x2="287.22" y2="280.20" stroke="#111" stroke-width="1.0" />
<line x1="284.72" y1="260.20" x2="289.72" y2="260.20" stroke="#111" stroke-width="1.0" />
<line x1="284.72" y1="280.20" x2="289.72" y2="280.20" stroke="#111" stroke-width="1.0" />
<line x1="324.59" y1="285.70" x2="324.59" y2="317.50" stroke="#111" stroke-width="1.0" />
<line x1="322.09" y1="285.70" x2="327.09" y2="285.70" stroke="#111" stroke-width="1.0" />
<line x1="322.09" y1="317.50" x2="327.09" y2="317.50" stroke="#111" stroke-width="1.0" />
<line x1="361.96" y1="315.60" x2="361.96" y2="316.60" stroke="#111" stroke-width="1.0" />
<line x1="359.46" y1="315.60" x2="364.46" y2="315.60" stroke="#111" stroke-width="1.0" />
<line x1="359.46" y1="316.60" x2="364.46" y2="316.60" stroke="#111" stroke-width="1.0" />
<line x1="399.33" y1="264.30" x2="399.33" y2="281.50" stroke="#111" stroke-width="1.0" />
<line x1="396.83" y1="264.30" x2="401.83" y2="264.30" stroke="#111" stroke-width="1.0" />
<line x1="396.83" y1="281.50" x2="401.83" y2="281.50" stroke="#111" stroke-width="1.0" />
<line x1="422.90" y1="290.20" x2="422.90" y2="312.30" stroke="#111" stroke-width="1.0" />
<line x1="420.40" y1="290.20" x2="425.40" y2="290.20" stroke="#111" stroke-width="1.0" />
<line x1="420.40" y1="312.30" x2="425.40" y2="312.30" stroke="#111" stroke-width="1.0" />
<line x1="436.70" y1="263.00" x2="436.70" y2="287.50" stroke="#111" stroke-width="1.0" />
<line x1="434.20" y1="263.00" x2="439.20" y2="263.00" stroke="#111" stroke-width="1.0" />
<line x1="434.20" y1="287.50" x2="439.20" y2="287.50" stroke="#111" stroke-width="1.0" />
<line x1="474.07" y1="235.30" x2="474.07" y2="264.60" stroke="#111" stroke-width="1.0" />
<line x1="471.57" y1="235.30" x2="476.57" y2="235.30" stroke="#111" stroke-width="1.0" />
<line x1="471.57" y1="264.60" x2="476.57" y2="264.60" stroke="#111" stroke-width="1.0" />
<line x1="497.64" y1="307.80" x2="497.64" y2="333.30" stroke="#111" stroke-width="1.0" />
<line x1="495.14" y1="307.80" x2="500.14" y2="307.80" stroke="#111" stroke-width="1.0" />
<line x1="495.14" y1="333.30" x2="500.14" y2="333.30" stroke="#111" stroke-width="1.0" />
<line x1="511.44" y1="237.80" x2="511.44" y2="272.40" stroke="#111" stroke-width="1.0" />
<line x1="508.94" y1="237.80" x2="513.94" y2="237.80" stroke="#111" stroke-width="1.0" />
<line x1="508.94" y1="272.40" x2="513.94" y2="272.40" stroke="#111" stroke-width="1.0" />
<rect x="246.40" y="349.0" width="6.60" height="2.4" fill="#111"/>
<rect x="382.08" y="350.2" width="6.60" height="1.2" fill="#222"/>
<line x1="220.70" y1="351.50" x2="520.00" y2="351.50" stroke="#000" stroke-width="1.5" />
<line x1="258.07" y1="351.50" x2="258.07" y2="354.30" stroke="#000" stroke-width="1.2" />
<line x1="295.44" y1="351.50" x2="295.44" y2="354.30" stroke="#000" stroke-width="1.2" />
<line x1="332.81" y1="351.50" x2="332.81" y2="354.30" stroke="#000" stroke-width="1.2" />
<line x1="370.18" y1="351.50" x2="370.18" y2="354.30" stroke="#000" stroke-width="1.2" />
<line x1="407.55" y1="351.50" x2="407.55" y2="354.30" stroke="#000" stroke-width="1.2" />
<line x1="444.92" y1="351.50" x2="444.92" y2="354.30" stroke="#000" stroke-width="1.2" />
<line x1="482.29" y1="351.50" x2="482.29" y2="354.30" stroke="#000" stroke-width="1.2" />
<line x1="519.66" y1="351.50" x2="519.66" y2="354.30" stroke="#000" stroke-width="1.2" />
<text x="224.30" y="362.72" font-size="9" font-weight="bold" text-anchor="start" fill="#000" stroke="#000" stroke-width="0.28" >delWK</text>
<text x="261.50" y="364.42" font-size="9" font-weight="bold" text-anchor="start" fill="#000" stroke="#000" stroke-width="0.28" >delWK</text>
<text x="261.50" y="374.82" font-size="9" font-weight="bold" text-anchor="start" fill="#000" stroke="#000" stroke-width="0.28" >+Y823D</text>
<text x="300.80" y="364.42" font-size="9" font-weight="bold" text-anchor="start" fill="#000" stroke="#000" stroke-width="0.28" >delWK</text>
<text x="300.80" y="374.82" font-size="9" font-weight="bold" text-anchor="start" fill="#000" stroke="#000" stroke-width="0.28" >+V654A</text>
<text x="336.20" y="364.42" font-size="9" font-weight="bold" text-anchor="start" fill="#000" stroke="#000" stroke-width="0.28" >delWK</text>
<text x="336.20" y="374.82" font-size="9" font-weight="bold" text-anchor="start" fill="#000" stroke="#000" stroke-width="0.28" >+T670I</text>
<text x="448.50" y="364.42" font-size="9" font-weight="bold" text-anchor="start" fill="#000" stroke="#000" stroke-width="0.28" >insAY</text>
<text x="448.50" y="374.82" font-size="9" font-weight="bold" text-anchor="start" fill="#000" stroke="#000" stroke-width="0.28" >+V654A</text>
<text x="488.90" y="364.42" font-size="9" font-weight="bold" text-anchor="start" fill="#000" stroke="#000" stroke-width="0.28" >insAY</text>
<text x="488.90" y="374.82" font-size="9" font-weight="bold" text-anchor="start" fill="#000" stroke="#000" stroke-width="0.28" >+T670I</text>
<text x="376.50" y="362.72" font-size="9" font-weight="bold" text-anchor="start" fill="#000" stroke="#000" stroke-width="0.28" >V559D</text>
<text x="411.90" y="362.72" font-size="9" font-weight="bold" text-anchor="start" fill="#000" stroke="#000" stroke-width="0.28" >insAY</text>
<text x="279.40" y="245.29" font-size="10.3" font-weight="bold" text-anchor="middle" fill="#000" stroke="#000" stroke-width="0.28" >[HG-7-85-01, µM]</text>
<line x1="331.10" y1="217.30" x2="331.10" y2="264.70" stroke="#000" stroke-width="2" />
<line x1="330.10" y1="218.30" x2="340.50" y2="218.30" stroke="#000" stroke-width="2" />
<line x1="330.10" y1="263.70" x2="340.50" y2="263.70" stroke="#000" stroke-width="2" />
<rect x="342.3" y="216.70" width="4.3" height="4.3" fill="#9999ff" stroke="#222255" stroke-width="1.0"/>
<text x="348.6" y="221.90" font-size="8.6" fill="#2a2a2a" stroke="#2a2a2a" stroke-width="0.2">0</text>
<rect x="342.3" y="230.50" width="4.3" height="4.3" fill="#993366" stroke="#2a0818" stroke-width="1.0"/>
<text x="348.6" y="235.70" font-size="8.6" fill="#2a2a2a" stroke="#2a2a2a" stroke-width="0.2">1</text>
<rect x="342.3" y="244.00" width="4.3" height="4.3" fill="#ffffcc" stroke="#333" stroke-width="1.0"/>
<text x="348.6" y="249.20" font-size="8.6" fill="#2a2a2a" stroke="#2a2a2a" stroke-width="0.2">0</text>
<rect x="342.3" y="258.10" width="4.3" height="4.3" fill="#ccffff" stroke="#333" stroke-width="1.0"/>
<text x="348.6" y="263.30" font-size="8.6" fill="#2a2a2a" stroke="#2a2a2a" stroke-width="0.2">1</text>
<path d="M357.8,214.6H370.8V232.6H357.8" fill="none" stroke="#000" stroke-width="2"/>
<path d="M357.8,245.4H370.8V264.0H357.8" fill="none" stroke="#000" stroke-width="2"/>
<text x="375.80" y="227.90" font-size="12" font-weight="bold" text-anchor="start" fill="#000" stroke="#000" stroke-width="0.28" >-IL-3</text>
<text x="375.80" y="258.39" font-size="11.7" font-weight="bold" text-anchor="start" fill="#000" stroke="#000" stroke-width="0.28" >+IL-3</text>
</svg></body></html>
